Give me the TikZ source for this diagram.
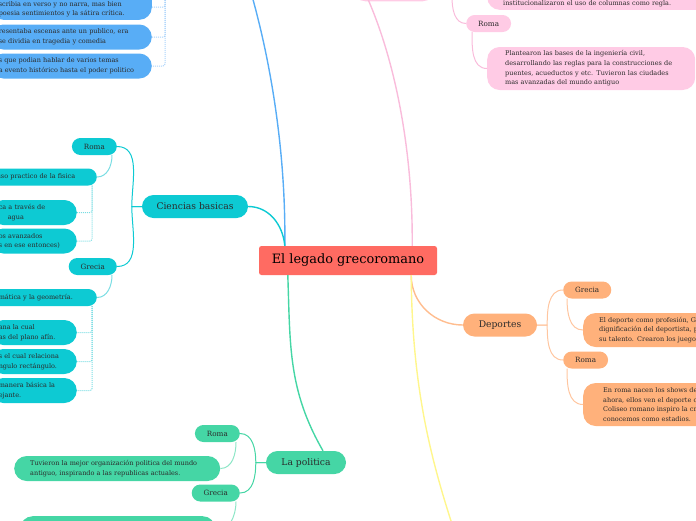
\documentclass[tikz,border=0pt]{standalone}
\usepackage{fontspec}
\setmainfont{DejaVu Serif}
\usepackage{tikz}
\usetikzlibrary{positioning}

\definecolor{rootred}{HTML}{FF6B62}
\definecolor{litblue}{HTML}{58ADF6}
\definecolor{litline}{HTML}{A8D2FA}
\definecolor{scicyan}{HTML}{0DCAD3}
\definecolor{sciline}{HTML}{7ADDE3}
\definecolor{polgreen}{HTML}{45D6A5}
\definecolor{polline}{HTML}{8EE6C7}
\definecolor{arqpink}{HTML}{FFCBE5}
\definecolor{arqline}{HTML}{F9BCDB}
\definecolor{deporange}{HTML}{FFB17B}
\definecolor{depline}{HTML}{FFC6A0}
\definecolor{yelline}{HTML}{FFF68C}
\definecolor{inktext}{HTML}{2B2B2B}

\begin{document}
\begin{tikzpicture}[x=1pt,y=-1pt]
\tikzset{root/.style = {fill=rootred, rounded corners=2.5pt, minimum width=178pt, minimum height=29pt, font=\fontsize{12.9}{15}\selectfont}}
\tikzset{topic/.style = {rounded corners=11.5pt, minimum height=23pt, text=inktext, font=\fontsize{9.2}{11}\selectfont}}
\tikzset{sub/.style = {rounded corners=8.5pt, minimum height=17pt, inner xsep=12pt, text=inktext, font=\fontsize{7.2}{9}\selectfont}}
\tikzset{leaf/.style = {rounded corners=12.5pt, inner xsep=16pt, inner ysep=2.5pt, minimum height=25pt, align=left, text=inktext, font=\fontsize{6.5}{9.7}\selectfont}}
\tikzset{thin leaf/.style = {leaf, rounded corners=8.5pt, minimum height=17pt}}
\tikzset{cut/.style = {inner xsep=8pt}}
\tikzset{branch/.style = {line width=1.4pt}}
\tikzset{twig/.style = {line width=1pt}}
\tikzset{dots/.style = {line width=1pt, densely dotted, rounded corners=2pt}}
\useasboundingbox (0,0) rectangle (696,520);
% centre and topics
\node[root] (root) at (348,260.5) {El legado grecoromano};
\node[topic, fill=scicyan, minimum width=106pt] (sci) at (195,206.5) {Ciencias basicas};
\node[topic, fill=deporange, minimum width=74pt] (dep) at (500,325) {Deportes};
\node[topic, fill=polgreen, minimum width=80pt] (pol) at (306,462.5) {La politica};
\coordinate (lit) at (252,-4);
\coordinate (litd) at (165,-4);
\coordinate (arq) at (367,-3);
\coordinate (arqs) at (452,-3);
\coordinate (cul) at (452,524);
% Roma / Grecia
\node[sub, fill=scicyan, anchor=east] (scir) at (117,146.5) {Roma};
\node[sub, fill=scicyan, anchor=east] (scig) at (117,266.5) {Grecia};
\node[sub, fill=polgreen, anchor=east] (polr) at (240,433.5) {Roma};
\node[sub, fill=polgreen, anchor=east] (polg) at (240,493) {Grecia};
\node[sub, fill=deporange, anchor=west] (depg) at (563,290) {Grecia};
\node[sub, fill=deporange, anchor=west] (depr) at (563,360) {Roma};
\node[sub, fill=arqpink, anchor=west] (arqr) at (466,23.5) {Roma};
% leaves, left side
\node[leaf, cut, fill=litblue, anchor=south east, text width=145pt, text height=30pt] (litb1) at (152,20) {scribia en verso y no narra, mas bien\\poesia sentimientos y la sátira crítica.};
\node[leaf, cut, fill=litblue, anchor=east, text width=145pt] (litb2) at (152,37) {resentaba escenas ante un publico, era\\se dividia en tragedia y comedia};
\node[leaf, cut, fill=litblue, anchor=east, text width=145pt] (litb3) at (152,66) {s que podian hablar de varios temas\\a evento histórico hasta el poder politico};
\node[thin leaf, cut, fill=scicyan, anchor=east, text width=92pt] (sciu) at (97,177) {uso practico de la fisica};
\node[leaf, cut, fill=scicyan, anchor=east, text width=70pt] (scia) at (77,212.5) {ca a través de\\\hspace*{9pt}agua};
\node[leaf, cut, fill=scicyan, anchor=east, text width=70pt] (scib) at (77,241) {os avanzados\\s en ese entonces)};
\node[thin leaf, cut, fill=scicyan, anchor=east, text width=90pt] (scim) at (97,297.5) {mática y la geometría.};
\node[leaf, cut, fill=scicyan, anchor=east, text width=70pt] (scic) at (77,332.5) {ana  la cual\\as del plano afín.};
\node[leaf, cut, fill=scicyan, anchor=east, text width=70pt] (scid) at (77,361.5) {s el cual relaciona\\ngulo rectángulo.};
\node[leaf, cut, fill=scicyan, anchor=east, text width=70pt] (scie) at (77,390.5) {manera básica la\\ejante.};
\node[leaf, fill=polgreen, anchor=west, text width=174pt] (polb) at (14,468.5) {Tuvieron la mejor organización politica del mundo\\antiguo, inspirando a las republicas actuales.};
\node[leaf, fill=polgreen, anchor=north west, minimum width=195pt, minimum height=30pt] (polbot) at (20,516) {};
% leaves, right side
\node[leaf, fill=arqpink, anchor=south, minimum width=82pt, minimum height=20pt] (arqtl) at (394,1.5) {};
\node[leaf, fill=arqpink, anchor=south west, text width=200pt, text height=30pt] (arqt) at (487,10) {institucionalizaron el uso de columnas como regla.};
\node[leaf, fill=arqpink, anchor=west, inner xsep=18pt, text width=172pt, minimum height=43pt] (arqb) at (487,68.5) {Plantearon las bases de la ingeniería civil,\\desarrollando las reglas para la construcciones de\\puentes, acueductos y etc. Tuvieron las ciudades\\mas avanzadas del mundo antiguo};
\node[leaf, fill=deporange, anchor=west, text width=150pt, minimum height=34pt] (depgt) at (583,330) {El deporte como profesión, G\\dignificación del deportista, p\\su talento. Crearon los juegos};
\node[leaf, fill=deporange, anchor=west, inner xsep=20pt, text width=150pt, minimum height=43pt] (deprt) at (583,404.5) {En roma nacen los shows de\\ahora, ellos ven el deporte c\\Coliseo romano inspiro la cr\\conocemos como estadios.};
% main branches
\draw[branch, litblue] ([xshift=26pt]root.north west) .. controls (286,150) and (270,60) .. (lit);
\draw[branch, scicyan] (sci.east) to[out=0,in=95] ([xshift=26pt]root.north west);
\draw[branch, arqline] ([xshift=-25pt]root.north east) .. controls (413,150) and (395,60) .. (arq);
\draw[branch, polgreen] ([xshift=29pt]root.south west) to[out=-88,in=120] ([xshift=17pt]pol.north);
\draw[branch, deporange!85] ([xshift=-26pt]root.south east) to[out=-90,in=180] (dep.west);
\draw[branch, yelline] ([xshift=-26pt]root.south east) .. controls (412,380) and (428,450) .. (cul);
% twigs
\draw[twig, scicyan] (sci.west) -- ++(-10pt,0) to[out=90,in=0] (scir.east);
\draw[twig, scicyan] (sci.west) -- ++(-10pt,0) to[out=-90,in=0] (scig.east);
\draw[twig, sciline] ([xshift=-5pt]scir.south east) to[out=-90,in=0] (sciu.east);
\draw[twig, sciline] ([xshift=-5pt]scig.south east) to[out=-90,in=0] (scim.east);
\draw[twig, polgreen] (pol.west) -- ++(-10pt,0) to[out=90,in=0] (polr.east);
\draw[twig, polgreen] (pol.west) -- ++(-10pt,0) to[out=-90,in=0] (polg.east);
\draw[twig, polline] ([xshift=-4pt]polr.south east) to[out=-90,in=0] (polb.east);
\draw[twig, polline] ([xshift=-4pt]polg.south east) to[out=-90,in=0] (polbot.east);
\draw[twig, depline] (dep.east) -- ++(10pt,0) to[out=90,in=180] (depg.west);
\draw[twig, depline] (dep.east) -- ++(10pt,0) to[out=-90,in=180] (depr.west);
\draw[twig, depline] ([xshift=4pt]depg.south west) to[out=-90,in=180] (depgt.west);
\draw[twig, depline] ([xshift=4pt]depr.south west) to[out=-90,in=180] (deprt.west);
\draw[twig, arqline] (arqs) to[out=-90,in=180] (arqr.west);
\draw[twig, arqline] ([xshift=6pt]arqr.south west) to[out=-90,in=180] (arqb.west);
% dotted links
\draw[dots, litline] (litd) |- ([yshift=13pt]litb1.south east);
\draw[dots, litline] (litd) |- (litb2.east);
\draw[dots, litline] (litd) |- (litb3.east);
\draw[dots, sciline] ([xshift=-5pt]sciu.south east) |- (scia.east);
\draw[dots, sciline] ([xshift=-5pt]sciu.south east) |- (scib.east);
\draw[dots, sciline] ([xshift=-5pt]scim.south east) |- (scic.east);
\draw[dots, sciline] ([xshift=-5pt]scim.south east) |- (scid.east);
\draw[dots, sciline] ([xshift=-5pt]scim.south east) |- (scie.east);
\end{tikzpicture}
\end{document}
